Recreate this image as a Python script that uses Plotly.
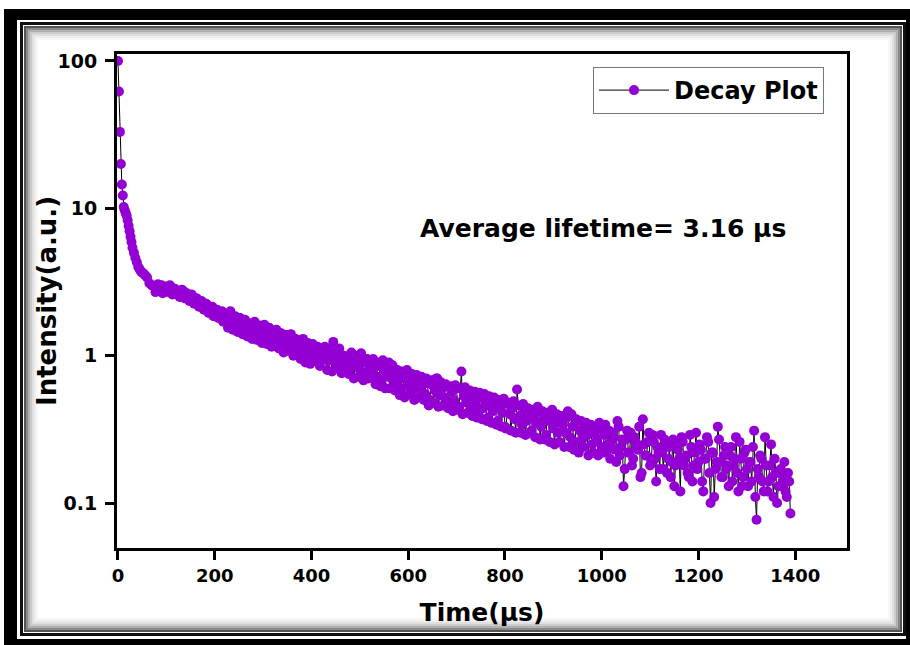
import plotly.graph_objects as go

# ---------------- data ----------------
time_early = [0, 2, 4, 6, 8, 10, 12, 14, 16, 18, 20, 22, 24, 26, 28, 30, 33, 36, 39,
              42, 45, 48, 51, 55, 60, 65, 70]
intensity_early = [100, 62, 33, 20, 14.5, 12.2, 10.2, 9.7, 9.3, 8.9, 8.3, 7.6, 7.0, 6.4,
                   5.9, 5.4, 5.0, 4.6, 4.3, 4.0, 3.85, 3.7, 3.65, 3.55, 3.4, 3.1, 3.0]

time_late = [
    75, 80, 85, 90, 95, 100, 105, 110, 115, 120,
    125, 130, 135, 140, 145, 150, 155, 160, 165, 170,
    175, 180, 185, 190, 195, 200, 205, 210, 215, 220,
    225, 230, 235, 240, 245, 250, 255, 260, 265, 270,
    275, 280, 285, 290, 295, 300, 305, 310, 315, 320,
    325, 330, 335, 340, 345, 350, 355, 360, 365, 370,
    375, 380, 385, 390, 395, 400, 405, 410, 415, 420,
    425, 430, 435, 440, 445, 450, 455, 460, 465, 470,
    475, 480, 485, 490, 495, 500, 505, 510, 515, 520,
    525, 530, 535, 540, 545, 550, 555, 560, 565, 570,
    575, 580, 585, 590, 595, 600, 605, 610, 615, 620,
    625, 630, 635, 640, 645, 650, 655, 660, 665, 670,
    675, 680, 685, 690, 695, 700, 705, 710, 715, 720,
    725, 730, 735, 740, 745, 750, 755, 760, 765, 770,
    775, 780, 785, 790, 795, 800, 805, 810, 815, 820,
    825, 830, 835, 840, 845, 850, 855, 860, 865, 870,
    875, 880, 885, 890, 895, 900, 905, 910, 915, 920,
    925, 930, 935, 940, 945, 950, 955, 960, 965, 970,
    975, 980, 985, 990, 995, 1000, 1005, 1010, 1015, 1020,
    1025, 1030, 1035, 1040, 1045, 1050, 1055, 1060, 1065, 1070,
    1075, 1080, 1085, 1090, 1095, 1100, 1105, 1110, 1115, 1120,
    1125, 1130, 1135, 1140, 1145, 1150, 1155, 1160, 1165, 1170,
    1175, 1180, 1185, 1190, 1195, 1200, 1205, 1210, 1215, 1220,
    1225, 1230, 1235, 1240, 1245, 1250, 1255, 1260, 1265, 1270,
    1275, 1280, 1285, 1290, 1295, 1300, 1305, 1310, 1315, 1320,
    1325, 1330, 1335, 1340, 1345, 1350, 1355, 1360, 1365, 1370,
    1375, 1380, 1385, 1390,
]
intensity_late = [
    2.95, 2.8, 2.9, 3.0, 2.75, 2.85, 2.7, 2.9, 2.8, 2.65,
    2.7, 2.6, 2.75, 2.5, 2.6, 2.4, 2.5, 2.3, 2.4, 2.2,
    2.3, 2.1, 2.2, 2.0, 2.15, 1.95, 2.05, 1.85, 2.0, 1.8,
    1.9, 1.75, 1.85, 1.7, 1.6, 1.8, 1.55, 1.7, 1.5, 1.65,
    1.55, 1.45, 1.6, 1.4, 1.5, 1.35, 1.45, 1.55, 1.3, 1.4,
    1.3, 1.45, 1.25, 1.35, 1.2, 1.3, 1.15, 1.25, 1.3, 1.1,
    1.2, 1.05, 1.15, 1.1, 1.0, 1.15, 0.98, 1.08, 1.02, 1.12,
    0.95, 1.05, 0.92, 1.0, 1.24, 0.9, 1.02, 0.88, 0.97, 0.85,
    0.93, 0.82, 0.98, 0.87, 1.0, 0.8, 0.9, 0.76, 0.95, 0.84,
    0.78, 0.88, 0.72, 0.85, 0.68, 0.8, 0.75, 0.9, 0.7, 0.77,
    0.65, 0.73, 0.6, 0.7, 0.78, 0.62, 0.68, 0.58, 0.72, 0.64,
    0.6, 0.69, 0.55, 0.65, 0.5, 0.63, 0.58, 0.7, 0.54, 0.6,
    0.52, 0.62, 0.47, 0.57, 0.5, 0.6, 0.45, 0.78, 0.53, 0.48,
    0.55, 0.43, 0.5, 0.46, 0.4, 0.52, 0.44, 0.49, 0.38, 0.47,
    0.42, 0.5, 0.36, 0.45, 0.41, 0.33, 0.47, 0.4, 0.44, 0.37,
    0.59, 0.39, 0.34, 0.43, 0.36, 0.41, 0.31, 0.38, 0.35, 0.42,
    0.33, 0.37, 0.29, 0.36, 0.4, 0.32, 0.35, 0.3, 0.38, 0.34,
    0.3, 0.42, 0.28, 0.33, 0.26, 0.36, 0.31, 0.27, 0.34, 0.29,
    0.32, 0.25, 0.3, 0.27, 0.35, 0.24, 0.29, 0.22, 0.31, 0.26,
    0.28, 0.19, 0.33, 0.24, 0.13, 0.27, 0.22, 0.3, 0.2, 0.26,
    0.23, 0.15, 0.37, 0.21, 0.26, 0.18, 0.29, 0.2, 0.24, 0.17,
    0.22, 0.27, 0.16, 0.24, 0.19, 0.13, 0.25, 0.2, 0.28, 0.18,
    0.21, 0.15, 0.24, 0.18, 0.3, 0.19, 0.23, 0.12, 0.2, 0.26,
    0.1, 0.22, 0.17, 0.33, 0.19, 0.15, 0.24, 0.18, 0.21, 0.14,
    0.2, 0.16, 0.26, 0.13, 0.22, 0.17, 0.19, 0.14, 0.31, 0.077,
    0.15, 0.2, 0.12, 0.18, 0.14, 0.25, 0.11, 0.16, 0.13, 0.17,
    0.14, 0.12, 0.16, 0.085,
]

time_half = [
    77.5, 82.5, 87.5, 92.5, 97.5, 102.5, 107.5, 112.5, 117.5, 122.5,
    127.5, 132.5, 137.5, 142.5, 147.5, 152.5, 157.5, 162.5, 167.5, 172.5,
    177.5, 182.5, 187.5, 192.5, 197.5, 202.5, 207.5, 212.5, 217.5, 222.5,
    227.5, 232.5, 237.5, 242.5, 247.5, 252.5, 257.5, 262.5, 267.5, 272.5,
    277.5, 282.5, 287.5, 292.5, 297.5, 302.5, 307.5, 312.5, 317.5, 322.5,
    327.5, 332.5, 337.5, 342.5, 347.5, 352.5, 357.5, 362.5, 367.5, 372.5,
    377.5, 382.5, 387.5, 392.5, 397.5, 402.5, 407.5, 412.5, 417.5, 422.5,
    427.5, 432.5, 437.5, 442.5, 447.5, 452.5, 457.5, 462.5, 467.5, 472.5,
    477.5, 482.5, 487.5, 492.5, 497.5, 502.5, 507.5, 512.5, 517.5, 522.5,
    527.5, 532.5, 537.5, 542.5, 547.5, 552.5, 557.5, 562.5, 567.5, 572.5,
    577.5, 582.5, 587.5, 592.5, 597.5, 602.5, 607.5, 612.5, 617.5, 622.5,
    627.5, 632.5, 637.5, 642.5, 647.5, 652.5, 657.5, 662.5, 667.5, 672.5,
    677.5, 682.5, 687.5, 692.5, 697.5, 702.5, 707.5, 712.5, 717.5, 722.5,
    727.5, 732.5, 737.5, 742.5, 747.5, 752.5, 757.5, 762.5, 767.5, 772.5,
    777.5, 782.5, 787.5, 792.5, 797.5, 802.5, 807.5, 812.5, 817.5, 822.5,
    827.5, 832.5, 837.5, 842.5, 847.5, 852.5, 857.5, 862.5, 867.5, 872.5,
    877.5, 882.5, 887.5, 892.5, 897.5, 902.5, 907.5, 912.5, 917.5, 922.5,
    927.5, 932.5, 937.5, 942.5, 947.5, 952.5, 957.5, 962.5, 967.5, 972.5,
    977.5, 982.5, 987.5, 992.5, 997.5, 1002.5, 1007.5, 1012.5, 1017.5, 1022.5,
    1027.5, 1032.5, 1037.5, 1042.5, 1047.5, 1052.5, 1057.5, 1062.5, 1067.5, 1072.5,
    1077.5, 1082.5, 1087.5, 1092.5, 1097.5, 1102.5, 1107.5, 1112.5, 1117.5, 1122.5,
    1127.5, 1132.5, 1137.5, 1142.5, 1147.5, 1152.5, 1157.5, 1162.5, 1167.5, 1172.5,
    1177.5, 1182.5, 1187.5, 1192.5, 1197.5, 1202.5, 1207.5, 1212.5, 1217.5, 1222.5,
    1227.5, 1232.5, 1237.5, 1242.5, 1247.5, 1252.5, 1257.5, 1262.5, 1267.5, 1272.5,
    1277.5, 1282.5, 1287.5, 1292.5, 1297.5, 1302.5, 1307.5, 1312.5, 1317.5, 1322.5,
    1327.5, 1332.5, 1337.5, 1342.5, 1347.5, 1352.5, 1357.5, 1362.5, 1367.5, 1372.5,
    1377.5, 1382.5, 1387.5,
]
intensity_half = [
    2.7, 3.05, 2.85, 2.65, 2.95, 2.75, 3.0, 2.6, 2.85, 2.75,
    2.5, 2.8, 2.45, 2.65, 2.35, 2.6, 2.25, 2.45, 2.15, 2.35,
    2.05, 2.25, 1.95, 2.1, 1.85, 2.05, 1.8, 1.95, 1.7, 1.9,
    1.55, 2.0, 1.5, 1.85, 1.45, 1.8, 1.4, 1.75, 1.35, 1.65,
    1.3, 1.7, 1.28, 1.6, 1.22, 1.62, 1.2, 1.55, 1.15, 1.45,
    1.5, 1.12, 1.42, 1.05, 1.38, 1.08, 1.4, 1.0, 1.3, 1.1,
    0.95, 1.3, 0.9, 1.22, 0.88, 1.2, 0.92, 1.15, 0.85, 1.1,
    1.15, 0.8, 1.1, 0.78, 1.05, 0.82, 1.12, 0.76, 1.0, 0.8,
    0.75, 1.05, 0.7, 0.98, 0.72, 1.04, 0.68, 0.95, 0.7, 0.9,
    0.95, 0.64, 0.9, 0.62, 0.93, 0.6, 0.88, 0.6, 0.86, 0.58,
    0.8, 0.54, 0.78, 0.52, 0.8, 0.55, 0.75, 0.5, 0.74, 0.52,
    0.72, 0.5, 0.7, 0.46, 0.68, 0.48, 0.7, 0.45, 0.66, 0.46,
    0.64, 0.44, 0.62, 0.42, 0.63, 0.43, 0.6, 0.4, 0.61, 0.41,
    0.58, 0.39, 0.57, 0.38, 0.56, 0.37, 0.55, 0.36, 0.53, 0.35,
    0.52, 0.34, 0.5, 0.33, 0.51, 0.32, 0.48, 0.31, 0.49, 0.3,
    0.46, 0.3, 0.47, 0.29, 0.44, 0.3, 0.43, 0.28, 0.45, 0.27,
    0.42, 0.27, 0.41, 0.26, 0.43, 0.25, 0.4, 0.26, 0.39, 0.24,
    0.38, 0.24, 0.4, 0.23, 0.37, 0.22, 0.36, 0.24, 0.35, 0.21,
    0.34, 0.22, 0.33, 0.21, 0.32, 0.22, 0.34, 0.25, 0.2, 0.3,
    0.23, 0.36, 0.21, 0.27, 0.17, 0.31, 0.22, 0.18, 0.28, 0.24,
    0.33, 0.16, 0.25, 0.21, 0.3, 0.19, 0.26, 0.14, 0.22, 0.29,
    0.17, 0.24, 0.2, 0.15, 0.27, 0.18, 0.23, 0.12, 0.26, 0.2,
    0.16, 0.29, 0.14, 0.22, 0.17, 0.25, 0.14, 0.2, 0.28, 0.16,
    0.22, 0.11, 0.19, 0.27, 0.15, 0.21, 0.17, 0.13, 0.24, 0.18,
    0.28, 0.12, 0.2, 0.15, 0.23, 0.13, 0.19, 0.24, 0.11, 0.17,
    0.21, 0.14, 0.28, 0.12, 0.18, 0.15, 0.2, 0.1, 0.16, 0.13,
    0.19, 0.11, 0.14,
]
assert len(time_early) == len(intensity_early)
assert len(time_late) == len(intensity_late)
assert len(time_half) == len(intensity_half)

pairs = sorted(zip(time_early + time_late + time_half,
                   intensity_early + intensity_late + intensity_half))
time_us = [p[0] for p in pairs]
intensity = [p[1] for p in pairs]

y_tickvals = [0.1, 1, 10, 100]
y_ticktext = ["0.1", "1", "10", "100"]
x_tickvals = [0, 200, 400, 600, 800, 1000, 1200, 1400]

# ---------------- layout geometry ----------------
W, H = 910, 645
ML, MR, MT, MB = 117, 63, 54, 97
PW, PH = W - ML - MR, H - MT - MB


def px(x):
    return (x - ML) / PW


def py(y):
    return (H - MB - y) / PH


FONT = "DejaVu Sans"

fig = go.Figure()
fig.add_trace(go.Scatter(
    x=time_us, y=intensity, mode="lines+markers", name="Decay Plot",
    line=dict(color="black", width=1),
    marker=dict(color="#9400D3", size=10),
))

# picture frame decoration
shapes = [
    dict(type="rect", xref="paper", yref="paper", x0=px(4), x1=px(910), y0=py(9), y1=py(645),
         fillcolor="black", line=dict(width=0), layer="below"),
    dict(type="rect", xref="paper", yref="paper", x0=px(17), x1=px(906), y0=py(20), y1=py(639),
         fillcolor="white", line=dict(width=0), layer="below"),
]
shadow = ["#111111", "#555555", "#8a8a8a", "#b0b0b0", "#cccccc", "#e0e0e0", "#eeeeee", "#f7f7f7"]
for i, c in enumerate(shadow):
    w = 3 if i == 0 else 2
    off = 0 if i == 0 else 1.5 + 2 * i
    shapes.append(dict(type="rect", xref="paper", yref="paper",
                       x0=px(21.5 + off), x1=px(904.5 - off),
                       y0=py(23.5 + off), y1=py(634.5 - off),
                       line=dict(color=c, width=w), layer="below"))

fig.update_layout(
    width=W, height=H,
    margin=dict(l=ML, r=MR, t=MT, b=MB),
    paper_bgcolor="white", plot_bgcolor="white",
    shapes=shapes,
    font=dict(family=FONT, color="black"),
    showlegend=True,
    legend=dict(x=px(593), y=py(67), xanchor="left", yanchor="top",
                bgcolor="white", bordercolor="#777777", borderwidth=1,
                font=dict(family=FONT, size=24, color="black", weight="bold"),
                itemwidth=70),
    xaxis=dict(range=[-2, 1507], tickvals=x_tickvals, ticks="outside", ticklen=9,
               tickwidth=2.5, tickcolor="black", showline=True, linewidth=3,
               linecolor="black", mirror=True, showgrid=False, zeroline=False,
               tickfont=dict(family=FONT, size=18, weight="bold"),
               title=dict(text="Time(µs)", standoff=19,
                          font=dict(family=FONT, size=25, weight="bold"))),
    yaxis=dict(type="log", range=[-1.305, 2.047], tickvals=y_tickvals, ticktext=y_ticktext,
               ticks="outside", ticklen=9, tickwidth=2.5, tickcolor="black",
               showline=True, linewidth=3, linecolor="black", mirror=True,
               showgrid=False, zeroline=False, ticklabelstandoff=4,
               tickfont=dict(family=FONT, size=19, weight="bold")),
    annotations=[
        dict(text="Average lifetime= 3.16 µs", xref="paper", yref="paper",
             x=px(603), y=py(228), showarrow=False,
             font=dict(family=FONT, size=25, color="black", weight="bold")),
        dict(text="Intensity(a.u.)", xref="paper", yref="paper",
             x=px(47), y=py(301), xanchor="center", yanchor="middle",
             showarrow=False, textangle=-90,
             font=dict(family=FONT, size=26, color="black", weight="bold")),
    ],
)

fig.write_html("out.html")
